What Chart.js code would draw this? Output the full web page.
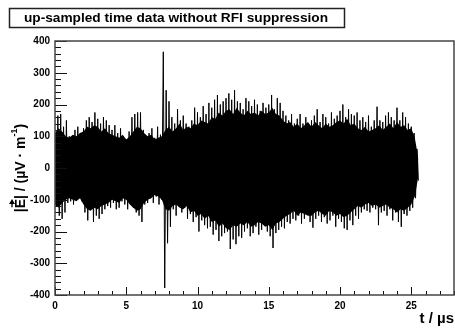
<!DOCTYPE html>
<html>
<head>
<meta charset="utf-8">
<script src="https://cdn.jsdelivr.net/npm/chart.js@4.4.1/dist/chart.umd.min.js"></script>
<style>
  html, body { margin: 0; padding: 0; background: #fff; }
  canvas { display: block; }
</style>
</head>
<body>
<canvas id="timeChart" width="455" height="329"></canvas>
<script>
        // sample spacing of the up-sampled trace, in microseconds
        const timeStepUs = 0.1;

        // field strength / (uV/m), peak values, one row per microsecond
        const fieldValues = [
            0, -120, 165, -150, 170, -160, 130, -140, 150, -110,
            100, -105, 95, -115, 120, -100, 130, -95, 110, -105,
            125, -140, 150, -165, 160, -130, 145, -170, 175, -150,
            155, -160, 140, -145, 160, -130, 150, -120, 135, -125,
            120, -110, 135, -130, 110, -125, 125, -105, 100, -115,
            90, -130, 115, -110, 160, -125, 170, -140, 175, -150,
            175, -170, 120, -115, 100, -110, 110, -95, 125, -110,
            95, -90, 130, -115, 105, -100, 366, -378, 245, -237,
            210, -185, 160, -130, 140, -150, 185, -120, 150, -140,
            165, -125, 140, -160, 130, -145, 150, -170, 190, -155,
            175, -200, 160, -165, 195, -180, 170, -190, 205, -185,
            190, -210, 215, -195, 230, -230, 200, -215, 210, -205,
            220, -200, 235, -255, 215, -225, 245, -240, 210, -215,
            205, -220, 185, -200, 220, -190, 210, -215, 195, -205,
            215, -185, 200, -210, 180, -195, 205, -180, 190, -200,
            200, -215, 230, -252, 185, -205, 220, -195, 205, -185,
            180, -190, 165, -170, 150, -175, 170, -160, 140, -165,
            155, -150, 170, -175, 140, -160, 160, -145, 135, -170,
            150, -188, 165, -160, 185, -150, 145, -170, 170, -155,
            160, -175, 140, -165, 175, -150, 155, -185, 165, -160,
            180, -170, 200, -190, 160, -195, 185, -165, 170, -180,
            165, -150, 175, -160, 150, -140, 160, -130, 145, -135,
            165, -140, 130, -125, 150, -130, 193, -180, 150, -140,
            145, -135, 165, -150, 175, -130, 160, -165, 150, -140,
            190, -170, 150, -185, 175, -145, 160, -150, 140, -135,
            130, -125, 110, -95, 60, -40
        ];

        // the dense, fully black core of the trace, every 0.25 us
        const coreStepUs = 0.25;
        const coreTop = [
            110, 125, 115, 100, 95, 105, 100, 110, 115, 130, 125, 135,
            130, 115, 125, 110, 105, 100, 95, 105, 90, 100, 115, 130,
            125, 110, 100, 105, 90, 95, 100, 120, 130, 115, 125, 140,
            120, 130, 125, 140, 135, 150, 145, 140, 160, 155, 175, 165,
            180, 185, 170, 190, 175, 165, 180, 170, 175, 165, 180, 170,
            175, 190, 170, 165, 150, 140, 145, 130, 140, 125, 135, 145,
            130, 145, 135, 125, 140, 130, 135, 145, 150, 140, 155, 135,
            140, 125, 120, 130, 115, 120, 125, 135, 120, 130, 140, 125,
            145, 130, 135, 120, 125, 95, 30
        ];
        const coreBottom = [
            -115, -125, -110, -100, -95, -100, -105, -95, -115, -130, -135, -125,
            -130, -120, -115, -110, -100, -105, -110, -95, -100, -115, -125, -135,
            -130, -110, -100, -95, -85, -90, -100, -130, -135, -120, -115, -125,
            -130, -120, -140, -135, -150, -145, -160, -150, -170, -165, -185, -175,
            -190, -195, -180, -185, -175, -180, -170, -185, -180, -170, -175, -185,
            -180, -195, -175, -170, -160, -150, -145, -135, -150, -140, -145, -150,
            -150, -140, -135, -145, -150, -135, -140, -150, -145, -155, -150, -140,
            -130, -120, -125, -115, -110, -120, -115, -125, -120, -115, -125, -130,
            -140, -130, -135, -125, -115, -90, -25
        ];

        const xTickValues = [0, 5, 10, 15, 20, 25];
        const yTickValues = [-400, -300, -200, -100, 0, 100, 200, 300, 400];

        const chartTitle = 'up-sampled time data without RFI suppression';
        const xTitle = 't / \u00b5s';

        const fontFamily = '"Liberation Sans", Arial, Helvetica, sans-serif';

        const points = fieldValues.map((v, i) => ({ x: +(i * timeStepUs).toFixed(2), y: v }));
        const corePoints = arr => arr.map((v, i) => ({ x: i * coreStepUs, y: v }));

        // ROOT style frame, inner ticks, title box and axis titles
        const rootStyle = {
            id: 'rootStyle',
            afterDraw(chart) {
                const ctx = chart.ctx;
                const area = chart.chartArea;
                const xs = chart.scales.x;
                const ys = chart.scales.y;

                ctx.save();
                ctx.strokeStyle = '#111';
                ctx.lineWidth = 1;
                ctx.beginPath();
                for (let v = -400; v <= 400; v += 20) {
                    const y = Math.round(ys.getPixelForValue(v)) + 0.5;
                    const len = v % 100 === 0 ? 12 : 6;
                    ctx.moveTo(area.left, y);
                    ctx.lineTo(area.left + len, y);
                }
                for (let v = 0; v <= 28; v += 1) {
                    const x = Math.round(xs.getPixelForValue(v)) + 0.5;
                    const len = v % 5 === 0 ? 8 : 4;
                    ctx.moveTo(x, area.bottom);
                    ctx.lineTo(x, area.bottom - len);
                }
                ctx.stroke();

                // frame
                ctx.strokeStyle = '#444';
                ctx.lineWidth = 1.5;
                ctx.strokeRect(area.left, area.top, area.right - area.left, area.bottom - area.top);

                // title box
                ctx.fillStyle = '#fff';
                ctx.fillRect(9, 8, 336, 20);
                ctx.strokeStyle = '#222';
                ctx.lineWidth = 1.5;
                ctx.strokeRect(9.5, 8.5, 335, 19);
                ctx.fillStyle = '#000';
                ctx.font = 'bold 13.7px ' + fontFamily;
                ctx.textAlign = 'center';
                ctx.textBaseline = 'middle';
                ctx.fillText(chartTitle, 176, 18.5);

                // x title
                ctx.font = 'bold 15px ' + fontFamily;
                ctx.textAlign = 'right';
                ctx.textBaseline = 'alphabetic';
                ctx.fillText(xTitle, 454, 323);

                // y title: |E| / (uV . m^-1) with vector arrow
                ctx.translate(21, 168);
                ctx.rotate(-Math.PI / 2);
                const mainFont = 'bold 14px ' + fontFamily;
                const supFont = 'bold 9px ' + fontFamily;
                const pieces = [
                    { t: '|', f: mainFont, dy: 0 },
                    { t: 'E', f: mainFont, dy: 0, arrow: true },
                    { t: '|', f: mainFont, dy: 0 },
                    { t: ' / (\u00b5V \u00b7 m', f: mainFont, dy: 0 },
                    { t: '-1', f: supFont, dy: -6 },
                    { t: ')', f: mainFont, dy: 0 }
                ];
                let total = 0;
                pieces.forEach(p => { ctx.font = p.f; p.w = ctx.measureText(p.t).width; total += p.w; });
                let x = -total / 2;
                ctx.textAlign = 'left';
                ctx.textBaseline = 'middle';
                pieces.forEach(p => {
                    ctx.font = p.f;
                    ctx.fillText(p.t, x, p.dy);
                    if (p.arrow) {
                        const ay = -9;
                        ctx.beginPath();
                        ctx.lineWidth = 1.3;
                        ctx.strokeStyle = '#000';
                        ctx.moveTo(x + 1, ay);
                        ctx.lineTo(x + p.w - 2, ay);
                        ctx.stroke();
                        ctx.beginPath();
                        ctx.moveTo(x + p.w, ay);
                        ctx.lineTo(x + p.w - 5, ay - 3);
                        ctx.lineTo(x + p.w - 5, ay + 3);
                        ctx.closePath();
                        ctx.fill();
                    }
                    x += p.w;
                });
                ctx.restore();
            }
        };

        const ctx = document.getElementById('timeChart').getContext('2d');
        const chart = new Chart(ctx, {
            type: 'line',
            data: {
                datasets: [
                    {
                        data: corePoints(coreTop),
                        borderWidth: 0,
                        borderColor: '#000',
                        backgroundColor: '#000',
                        pointRadius: 0,
                        tension: 0,
                        fill: '+1'
                    },
                    {
                        data: corePoints(coreBottom),
                        borderWidth: 0,
                        borderColor: '#000',
                        pointRadius: 0,
                        tension: 0,
                        fill: false
                    },
                    {
                        data: points,
                        borderColor: '#000',
                        borderWidth: 1,
                        pointRadius: 0,
                        tension: 0,
                        fill: false
                    }
                ]
            },
            options: {
                responsive: false,
                animation: false,
                devicePixelRatio: 1,
                layout: { padding: { top: 41, right: 1, left: 0, bottom: 0 } },
                plugins: {
                    legend: { display: false },
                    tooltip: { enabled: false },
                    filler: { propagate: false }
                },
                scales: {
                    x: {
                        type: 'linear',
                        min: 0,
                        max: 28,
                        afterBuildTicks: s => { s.ticks = xTickValues.map(v => ({ value: v })); },
                        afterFit: s => { s.height = 34; },
                        grid: { display: false, drawTicks: false },
                        border: { display: false },
                        ticks: {
                            padding: 5,
                            maxRotation: 0,
                            autoSkip: false,
                            color: '#000',
                            font: { family: fontFamily, size: 10, weight: 'bold' }
                        }
                    },
                    y: {
                        type: 'linear',
                        min: -400,
                        max: 400,
                        afterBuildTicks: s => { s.ticks = yTickValues.map(v => ({ value: v })); },
                        afterFit: s => { s.width = 55; },
                        grid: { display: false, drawTicks: false },
                        border: { display: false },
                        ticks: {
                            padding: 5,
                            autoSkip: false,
                            color: '#000',
                            font: { family: fontFamily, size: 10, weight: 'bold' }
                        }
                    }
                }
            },
            plugins: [rootStyle]
        });
</script>
</body>
</html>
